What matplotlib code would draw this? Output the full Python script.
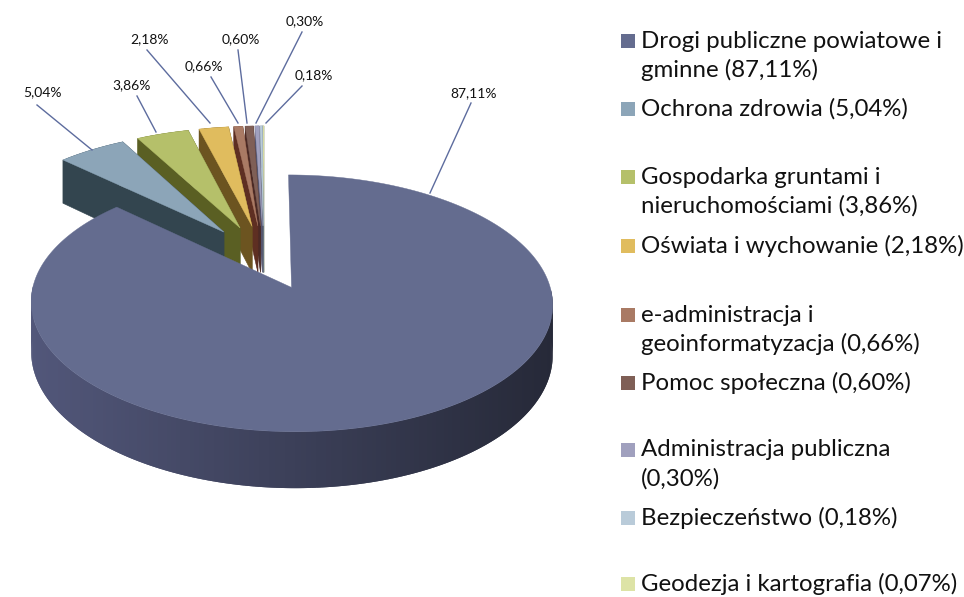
import numpy as np
import matplotlib
matplotlib.use("Agg")
import matplotlib.pyplot as plt
from matplotlib.collections import PolyCollection
from matplotlib.patches import Polygon, Rectangle

plt.rcParams['font.family'] = ['Lato', 'DejaVu Sans']

names = ["Drogi publiczne powiatowe i\ngminne", "Ochrona zdrowia", "Gospodarka gruntami i\nnieruchomościami",
         "Oświata i wychowanie", "e-administracja i\ngeoinformatyzacja", "Pomoc społeczna",
         "Administracja publiczna\n", "Bezpieczeństwo", "Geodezja i kartografia"]
values = [87.11, 5.04, 3.86, 2.18, 0.66, 0.60, 0.30, 0.18, 0.07]
colors = ["#646C8F", "#8CA5B8", "#B5C06A", "#E0BC5E", "#A97A64", "#7F5F56", "#A0A0BE", "#B9CBD9", "#DDE3A6"]
side_colors = ["#3E4260", "#33454F", "#5A5F23", "#6C5420", "#5E2F22", "#4B2A25", "#55556E", "#66747F", "#80856A"]

# polozenie opisow i linii (piksele)
label_pos = [(474, 93), (42, 92), (132, 85), (150, 39), (204, 66), (241, 39), (305, 21), (314, 75)]
leader_start = [(430, 193), (92, 150), (156, 132), (210, 123), (238, 123), (247, 123), (256, 123), (266, 123)]
leader_end = [(471, 103), (37, 105), (137, 96), (147, 50), (211, 77), (238, 50), (302, 32), (302, 86)]
legend_y = [41, 109, 177, 246, 315, 383, 450, 518, 584]

# rzut kola na ekran z lekka perspektywa
OX, OY = 264, 257
A, B = 251, 119
K = 0.12
EXPLODE = 0.27
DEPTH = 48


def project(x, y, z=0.0):
    w = 1 + K * y
    return OX + A * x / w, OY - B * y / w + z * DEPTH / w


def pct(v):
    return f"{v:.2f}".replace(".", ",") + "%"


fig = plt.figure(figsize=(9.64, 5.97), dpi=100)
ax = fig.add_axes([0, 0, 1, 1])
ax.set_xlim(0, 964)
ax.set_ylim(597, 0)
ax.axis("off")

# katy liczone od godziny 12, zgodnie z ruchem wskazowek
edges = np.concatenate([[0], np.cumsum(values)]) / sum(values) * 2 * np.pi
slices = []
for i in range(len(values)):
    t = np.linspace(edges[i], edges[i + 1], max(int(np.degrees(edges[i + 1] - edges[i])), 3))
    mid = (edges[i] + edges[i + 1]) / 2
    dx, dy = EXPLODE * np.sin(mid), EXPLODE * np.cos(mid)
    slices.append((i, t, dx, dy))

# male wycinki od strony godziny 12, duzy na koncu
order = list(range(len(values) - 1, 0, -1)) + [0]
z_base = 2
for i in order:
    _, t, dx, dy = slices[i]
    rx, ry = dx + np.sin(t), dy + np.cos(t)

    # sciany boczne
    if i > 0:
        for k in (0, -1):
            pts = [project(dx, dy), project(rx[k], ry[k]), project(rx[k], ry[k], 1), project(dx, dy, 1)]
            ax.add_patch(Polygon(pts, closed=True, fc=side_colors[i], ec=side_colors[i], lw=0.4, zorder=z_base))

    # obwod - duzy wycinek tylko od strony widza, kolejne pasy zachodza na siebie
    quads, fc = [], []
    for j in range(len(t) - 1):
        if i == 0 and np.cos(t[j]) > 0:
            continue
        tt = np.linspace(t[j], t[min(j + 2, len(t) - 1)], 5)
        xs, ys = dx + np.sin(tt), dy + np.cos(tt)
        top = [project(a, b) for a, b in zip(xs, ys)]
        bot = [project(a, b, 1) for a, b in zip(xs, ys)]
        quads.append(top + bot[::-1])
        if i == 0:
            s = np.clip((top[0][0] - 31) / 522, 0, 1)
            c = np.array([82, 87, 122]) * (1 - s) + np.array([38, 41, 56]) * s
            fc.append(c / 255)
        else:
            fc.append(matplotlib.colors.to_rgb(side_colors[i]))
    if quads:
        ax.add_collection(PolyCollection(quads, facecolors=fc, edgecolors="none", zorder=z_base))

    # gorna powierzchnia
    outline = [project(dx, dy)] + [project(a, b) for a, b in zip(rx, ry)]
    ax.add_patch(Polygon(outline, closed=True, fc=colors[i], ec=colors[i], lw=0.3, zorder=z_base + 1))
    z_base += 2

# opisy procentowe z liniami
for v, p, s, e in zip(values, label_pos, leader_start, leader_end):
    ax.plot([s[0], e[0]], [s[1], e[1]], color="#5D6C9E", lw=1.0, zorder=50)
    ax.text(p[0], p[1], pct(v), fontsize=10, ha="center", va="center", color="#111111", zorder=51)

# legenda
for name, v, c, y in zip(names, values, colors, legend_y):
    ax.add_patch(Rectangle((621, y - 7), 14, 14, fc=c, ec="none", zorder=50))
    lines = name.split("\n")
    if lines[-1] == "":
        lines[-1] = f"({pct(v)})"
    else:
        lines[-1] += f" ({pct(v)})"
    for n, line in enumerate(lines):
        ax.text(641, y + n * 28.5, line, fontsize=17.3, ha="left", va="center", color="#111111", zorder=51)

fig.savefig("out.png", dpi=100)
